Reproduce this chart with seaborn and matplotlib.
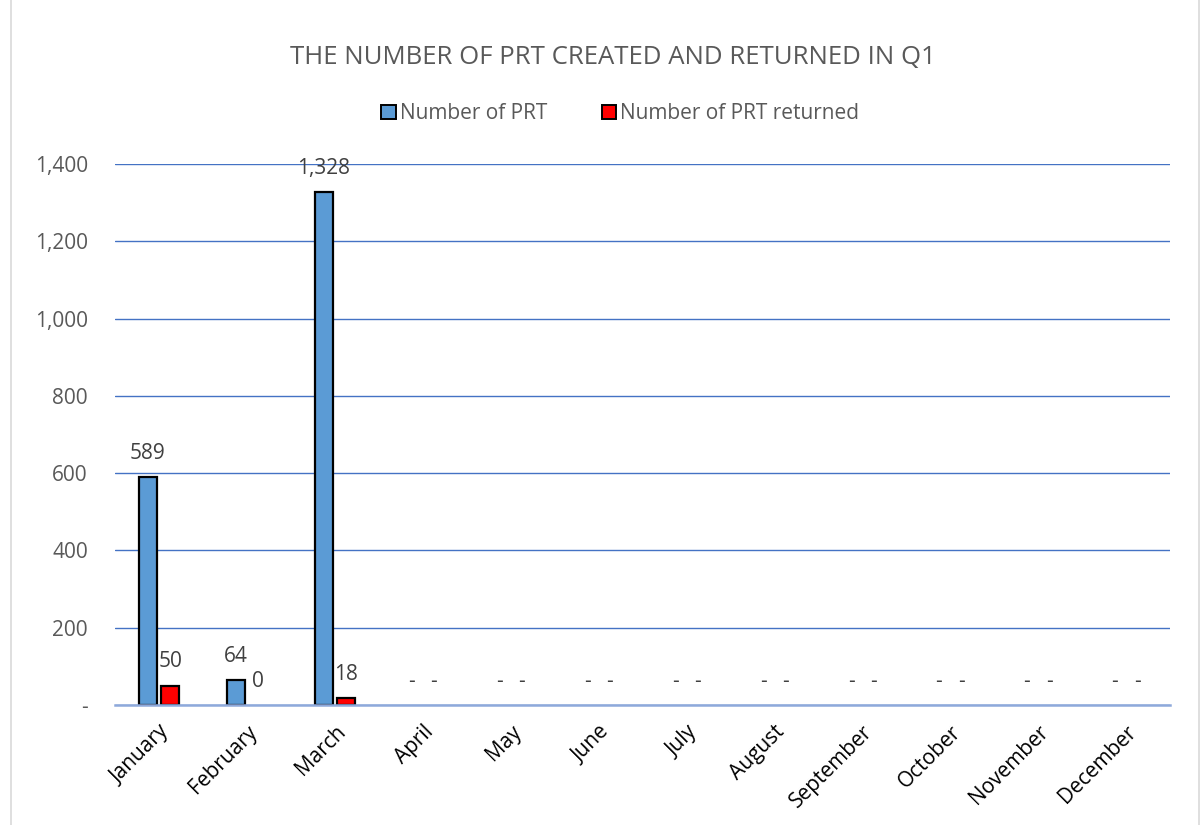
import matplotlib
matplotlib.use("Agg")
import matplotlib.pyplot as plt
from matplotlib.patches import Rectangle
from matplotlib.ticker import FixedLocator, FuncFormatter
import seaborn as sns
import pandas as pd

months = ["January", "February", "March", "April", "May", "June", "July",
          "August", "September", "October", "November", "December"]
prt_created = [589, 64, 1328, 0, 0, 0, 0, 0, 0, 0, 0, 0]
prt_returned = [50, 0, 18, 0, 0, 0, 0, 0, 0, 0, 0, 0]
series_names = ["Number of PRT", "Number of PRT returned"]
months_reported = 3  # Q1; later months are empty and shown as "-"
y_ticks = [0, 200, 400, 600, 800, 1000, 1200, 1400]

df = pd.DataFrame({
    "month": months * 2,
    "series": [series_names[0]] * len(months) + [series_names[1]] * len(months),
    "value": prt_created + prt_returned,
})

sns.set_theme(style="white")
plt.rcParams["font.family"] = ["Open Sans", "DejaVu Sans"]

fig = plt.figure(figsize=(12, 8.25), dpi=100)
ax = fig.add_axes([0.0958, 0.1455, 0.8792, 0.6558])

sns.barplot(data=df, x="month", y="value", hue="series", order=months,
            hue_order=series_names, palette=["#5B9BD5", "#FF0000"],
            saturation=1, width=0.51, gap=0.2, edgecolor="black",
            linewidth=1.6, ax=ax, legend=False, zorder=3)

# empty bars get no outline
for container in ax.containers:
    for patch in container.patches:
        if patch.get_height() == 0:
            patch.set_edgecolor("none")

ax.set_ylim(0, 1400)
ax.set_xlim(-0.5, len(months) - 0.5)
ax.yaxis.set_major_locator(FixedLocator(y_ticks))
ax.yaxis.set_major_formatter(FuncFormatter(lambda v, p: "-" if v == 0 else f"{int(v):,}"))
ax.grid(axis="y", color="#4472C4", linewidth=1.0, zorder=0)
ax.grid(axis="x", visible=False)
for s in ["top", "right", "left"]:
    ax.spines[s].set_visible(False)
ax.spines["bottom"].set_color("#8EA9DB")
ax.spines["bottom"].set_linewidth(1.8)
ax.spines["bottom"].set_zorder(4)
ax.tick_params(axis="y", length=0, pad=19.5, labelsize=15, labelcolor="#595959")
ax.tick_params(axis="x", length=0, pad=12, labelsize=15, labelcolor="#000000")
plt.setp(ax.get_xticklabels(), rotation=45, ha="right", rotation_mode="anchor")
ax.set_xlabel("")
ax.set_ylabel("")


def fmt(values):
    out = []
    for i, v in enumerate(values):
        if v == 0 and i >= months_reported:
            out.append("-")
        else:
            out.append(f"{v:,}")
    return out


for container, values in zip(ax.containers, [prt_created, prt_returned]):
    ax.bar_label(container, labels=fmt(values), padding=9.5,
                 fontsize=15, color="#404040")

fig.suptitle("THE NUMBER OF PRT CREATED AND RETURNED IN Q1", x=0.511, y=0.946,
             fontsize=18.5, color="#595959")

handles = [Rectangle((0, 0), 1, 1, facecolor=c, edgecolor="black", linewidth=1.4)
           for c in ["#5B9BD5", "#FF0000"]]
fig.legend(handles, series_names, loc="center", bbox_to_anchor=(0.517, 0.862),
           ncol=2, frameon=False, fontsize=15, labelcolor="#595959",
           handlelength=0.7, handleheight=0.7, handletextpad=0.2,
           columnspacing=2.6)

fig.add_artist(Rectangle((0.009, -0.01), 0.99, 1.02, transform=fig.transFigure,
                         fill=False, edgecolor="#D9D9D9", linewidth=1.2))

fig.savefig("out.png", dpi=100)
